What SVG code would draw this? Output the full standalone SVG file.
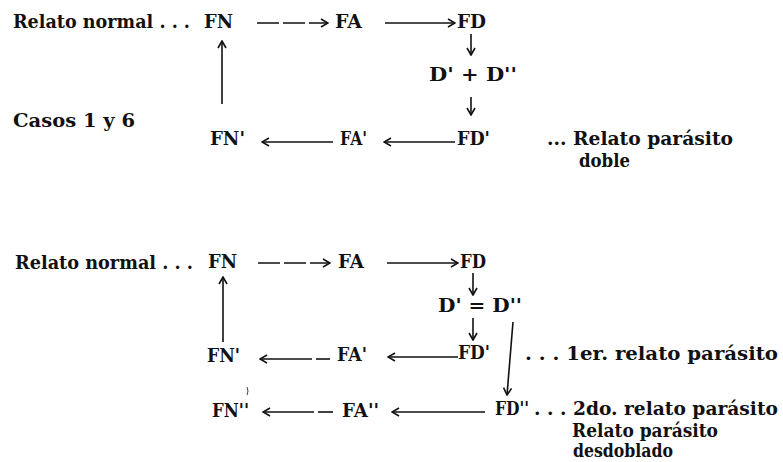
<svg xmlns="http://www.w3.org/2000/svg" width="783" height="462" viewBox="0 0 783 462">
<defs>
<marker id="ah" viewBox="-9 -5 10 10" refX="0" refY="0" markerWidth="10" markerHeight="10" markerUnits="userSpaceOnUse" orient="auto">
<path d="M-7,-4 L0,0 L-7,4" fill="none" stroke="#111" stroke-width="1.6" stroke-linejoin="miter"/>
</marker>
</defs>
<style>
text{font-family:'DejaVu Serif','Liberation Serif',serif;font-size:19px;font-weight:bold;fill:#111}
.c{fill:none;stroke:#111;stroke-width:1.6}
.a{marker-end:url(#ah)}
.d{stroke-dasharray:22 4}
</style>
<rect width="783" height="462" fill="#fff"/>
<!-- Top diagram -->
<g id="label-top-normal"><text x="13" y="28" textLength="177" lengthAdjust="spacingAndGlyphs">Relato normal . . .</text></g>
<g id="label-casos"><text x="13" y="127" textLength="122" lengthAdjust="spacingAndGlyphs">Casos 1 y 6</text></g>
<g id="t-FN"><text x="204" y="28" textLength="29" lengthAdjust="spacingAndGlyphs">FN</text></g>
<g id="t-FA"><text x="335" y="28" textLength="27" lengthAdjust="spacingAndGlyphs">FA</text></g>
<g id="t-FD"><text x="457" y="28" textLength="29" lengthAdjust="spacingAndGlyphs">FD</text></g>
<g id="t-D"><text x="429" y="81" textLength="88" lengthAdjust="spacingAndGlyphs">D' + D''</text></g>
<g id="t-FN1"><text x="210" y="145" textLength="35" lengthAdjust="spacingAndGlyphs">FN'</text></g>
<g id="t-FA1"><text x="340" y="145" textLength="27" lengthAdjust="spacingAndGlyphs">FA'</text></g>
<g id="t-FD1"><text x="457" y="145" textLength="33" lengthAdjust="spacingAndGlyphs">FD'</text></g>
<g id="label-doble"><text x="547" y="145" textLength="186" lengthAdjust="spacingAndGlyphs">... Relato parásito</text><text x="579" y="167" textLength="51" lengthAdjust="spacingAndGlyphs">doble</text></g>

<!-- Bottom diagram -->
<g id="label-bot-normal"><text x="15" y="269" textLength="178" lengthAdjust="spacingAndGlyphs">Relato normal . . .</text></g>
<g id="b-FN"><text x="208" y="268" textLength="29" lengthAdjust="spacingAndGlyphs">FN</text></g>
<g id="b-FA"><text x="338" y="268" textLength="26" lengthAdjust="spacingAndGlyphs">FA</text></g>
<g id="b-FD"><text x="460" y="268" textLength="26" lengthAdjust="spacingAndGlyphs">FD</text></g>
<g id="b-D"><text x="438" y="312" textLength="84" lengthAdjust="spacingAndGlyphs">D' = D''</text></g>
<g id="b-FN1"><text x="207" y="362" textLength="33" lengthAdjust="spacingAndGlyphs">FN'</text></g>
<g id="b-FA1"><text x="337" y="361" textLength="30" lengthAdjust="spacingAndGlyphs">FA'</text></g>
<g id="b-FD1"><text x="458" y="359" textLength="32" lengthAdjust="spacingAndGlyphs">FD'</text></g>
<g id="label-1er"><text x="525" y="360" textLength="253" lengthAdjust="spacingAndGlyphs">. . . 1er. relato parásito</text></g>
<g id="b-FN2"><text x="212" y="417" textLength="37" lengthAdjust="spacingAndGlyphs">FN''</text></g>
<g id="b-FA2"><text x="342" y="417" textLength="37" lengthAdjust="spacingAndGlyphs">FA''</text></g>
<g id="b-FD2"><text x="495" y="415" textLength="34" lengthAdjust="spacingAndGlyphs">FD''</text></g>
<g id="label-2do"><text x="534" y="415" textLength="244" lengthAdjust="spacingAndGlyphs">. . . 2do. relato parásito</text><text x="572" y="437" textLength="146" lengthAdjust="spacingAndGlyphs">Relato parásito</text><text x="573" y="457" textLength="100" lengthAdjust="spacingAndGlyphs">desdoblado</text></g>

<g id="connectors">
<line class="c a d" x1="257" y1="23" x2="328" y2="23"/>
<line class="c a" x1="385" y1="23" x2="455" y2="23"/>
<line class="c a" x1="471" y1="34" x2="471" y2="55"/>
<line class="c a" x1="471" y1="97" x2="471" y2="115"/>
<line class="c a" x1="455" y1="142" x2="384" y2="142"/>
<line class="c a" x1="333" y1="142" x2="262" y2="142"/>
<line class="c a" x1="222" y1="104" x2="222" y2="41"/>
<line class="c a d" x1="258" y1="263" x2="330" y2="263"/>
<line class="c a" x1="387" y1="263" x2="458" y2="263"/>
<line class="c a" x1="473" y1="273" x2="473" y2="295"/>
<line class="c a" x1="473" y1="318" x2="473" y2="340"/>
<line class="c a" x1="513" y1="322" x2="507" y2="395"/>
<line class="c a" x1="458" y1="357" x2="388" y2="357"/>
<line class="c" x1="330" y1="359" x2="316" y2="359"/>
<line class="c a" x1="312" y1="359" x2="260" y2="359"/>
<line class="c a" x1="485" y1="412" x2="392" y2="412"/>
<line class="c" x1="333" y1="412" x2="318" y2="412"/>
<line class="c a" x1="314" y1="412" x2="263" y2="412"/>
<line class="c a" x1="223" y1="342" x2="223" y2="277"/>
<path d="M247,387 Q249,391 247,395" fill="none" stroke="#111" stroke-width="0.8"/>
</g>
</svg>
